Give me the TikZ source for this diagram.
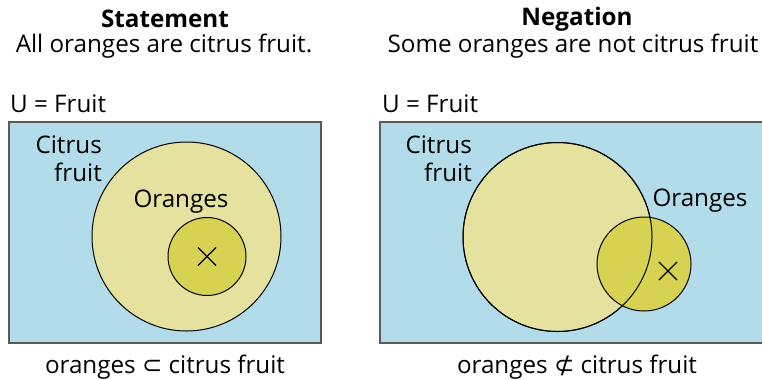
\documentclass[tikz,border=0pt]{standalone}
\usepackage{fontspec}
\setmainfont{Open Sans}
\newfontfamily\symfont{DejaVu Sans}
\usetikzlibrary{positioning, shapes.misc}
\definecolor{univ}{HTML}{B3DCEA}
\definecolor{paleset}{HTML}{E5E19E}
\definecolor{deepset}{HTML}{D7D252}
\definecolor{frame}{HTML}{5A5A5A}

\begin{document}
\begin{tikzpicture}[
  x=1bp, y=-1bp,
  txt/.style={inner sep=0pt, font=\fontsize{24.3}{28}\selectfont},
  head/.style={txt, font=\fontsize{24.3}{28}\selectfont\bfseries},
  box/.style={draw=frame, line width=1.4bp, fill=univ},
  bigset/.style={circle, draw=black, line width=1bp, fill=paleset,
                 minimum size=189bp, inner sep=0pt},
  smallset/.style={circle, draw=black, line width=1bp, fill=deepset,
                   inner sep=0pt},
  crossmark/.style={cross out, draw=black, line width=1.1bp,
               minimum size=17bp, inner sep=0pt}
]
  \useasboundingbox (0,0) rectangle (762,379);

  % statement
  \node[head] (titleL) at (165,19) {Statement};
  \node[txt] (subL) at (164,46) {All oranges are citrus fruit.};
  \node[txt, anchor=west] (univL) at (10,104) {U = Fruit};
  \draw[box] (9,122) rectangle (321,343);
  \node[bigset] (citrusL) at (186.5,236.5) {};
  \node[smallset, minimum size=78bp] (orangesL) at (207,256.5) {};
  \node[crossmark] (xL) at (207,256.5) {};
  \node[txt, align=right, anchor=east] (lblcL) at (102,159) {Citrus\\fruit};
  \node[txt] (lbloL) at (181,202) {Oranges};
  \node[txt] (relL) at (165,367) {oranges {\symfont ⊂} citrus fruit};

  % negation
  \node[head] (titleR) at (577,19) {Negation};
  \node[txt] (subR) at (573,46) {Some oranges are not citrus fruit};
  \node[txt, anchor=west] (univR) at (382,104) {U = Fruit};
  \draw[box] (380,122) rectangle (775,343);
  \node[bigset] (citrusR) at (557.5,237) {};
  \node[smallset, minimum size=94bp] (orangesR) at (644,264) {};
  \draw[line width=1bp] (citrusR.center) circle[radius=94.5bp];
  \node[crossmark] (xR) at (668,271) {};
  \node[txt, align=right, anchor=east] (lblcR) at (472,159) {Citrus\\fruit};
  \node[txt] (lbloR) at (700,201) {Oranges};
  \node[txt] (relR) at (577,367) {oranges {\symfont ⊄} citrus fruit};
\end{tikzpicture}
\end{document}
